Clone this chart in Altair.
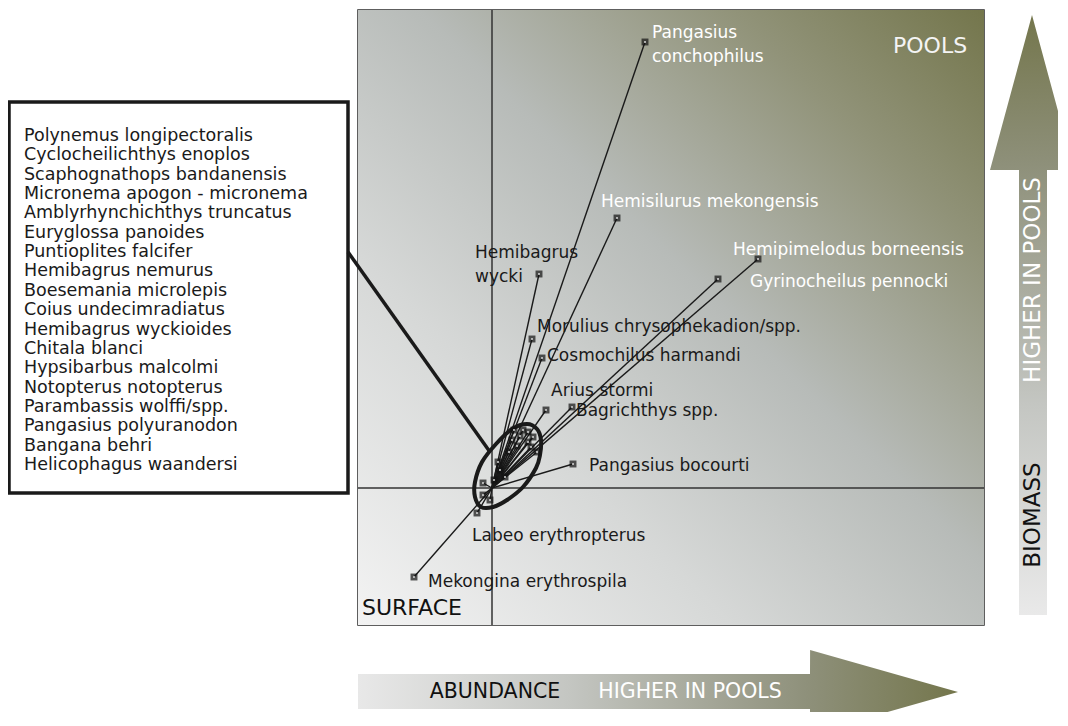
import altair as alt
import pandas as pd

# ---------------- data ----------------
# plot window (ordination units)
XD = [-1.34, 4.92]
YD = [-1.37, 4.78]

# labelled species scores (axis 1 = abundance, axis 2 = biomass)
lab_names = ["Pangasius conchophilus", "Hemisilurus mekongensis", "Hemibagrus wycki",
             "Hemipimelodus borneensis", "Gyrinocheilus pennocki",
             "Morulius chrysophekadion/spp.", "Cosmochilus harmandi", "Arius stormi",
             "Bagrichthys spp.", "Pangasius bocourti", "Labeo erythropterus",
             "Mekongina erythrospila"]
lab_x = [1.53, 1.25, 0.47, 2.66, 2.26, 0.40, 0.50, 0.54, 0.80, 0.81, -0.15, -0.78]
lab_y = [4.46, 2.70, 2.14, 2.29, 2.09, 1.49, 1.30, 0.78, 0.81, 0.24, -0.25, -0.89]
lab_text = ["Pangasius\nconchophilus", "Hemisilurus mekongensis", "Hemibagrus\nwycki",
            "Hemipimelodus borneensis", "Gyrinocheilus pennocki",
            "Morulius chrysophekadion/spp.", "Cosmochilus harmandi", "Arius stormi",
            "Bagrichthys spp.", "Pangasius bocourti", "Labeo erythropterus",
            "Mekongina erythrospila"]

# species grouped in the central cluster (listed in the box)
clu_names = ["Polynemus longipectoralis", "Cyclocheilichthys enoplos",
             "Scaphognathops bandanensis", "Micronema apogon - micronema",
             "Amblyrhynchichthys truncatus", "Euryglossa panoides",
             "Puntioplites falcifer", "Hemibagrus nemurus", "Boesemania microlepis",
             "Coius undecimradiatus", "Hemibagrus wyckioides", "Chitala blanci",
             "Hypsibarbus malcolmi", "Notopterus notopterus", "Parambassis wolffi/spp.",
             "Pangasius polyuranodon", "Bangana behri", "Helicophagus waandersi"]
clu_x = [0.31, 0.36, 0.20, 0.36, 0.45, 0.13, -0.09, -0.09, -0.02, 0.28, 0.25, 0.41,
         0.17, 0.22, 0.08, 0.39, 0.06, 0.02]
clu_y = [0.58, 0.56, 0.48, 0.46, 0.36, 0.11, 0.05, -0.07, -0.12, 0.52, 0.42, 0.51,
         0.36, 0.58, 0.18, 0.41, 0.26, 0.08]

# hand-drawn outline round the cluster
ell_x = [0.35, 0.45, 0.49, 0.48, 0.44, 0.31, 0.15, 0.01, -0.11, -0.17, -0.17, -0.10, 0.04, 0.20]
ell_y = [0.64, 0.59, 0.48, 0.33, 0.20, 0.01, -0.12, -0.19, -0.19, -0.09, 0.06, 0.26, 0.44, 0.59]

# ---------------- styling ----------------
INK = "#1a1a1a"
FONT = "DejaVu Sans"
lab_color = ["white", "white", INK, "white", "white", INK, INK, INK, INK, INK, INK, INK]
lab_dx = [7, -16, -64, -25, 32, 5, 5, 5, 4, 16, -5, 14]
lab_dy = [-4, -11, -16, -4, 8, -7, 3, -14, 9, 7, 28, 10]

BG = alt.Gradient(gradient="linear", x1=0, y1=1, x2=1, y2=0, stops=[
    alt.GradientStop(color="#f3f3f3", offset=0),
    alt.GradientStop(color="#d6d8d7", offset=0.3),
    alt.GradientStop(color="#b7bbb8", offset=0.55),
    alt.GradientStop(color="#919379", offset=0.8),
    alt.GradientStop(color="#74764c", offset=1)])
ARROW_H = alt.Gradient(gradient="linear", x1=0, y1=0, x2=1, y2=0, stops=[
    alt.GradientStop(color="#e8e8e8", offset=0),
    alt.GradientStop(color="#c4c6c2", offset=0.35),
    alt.GradientStop(color="#8e907a", offset=0.75),
    alt.GradientStop(color="#74764c", offset=1)])
ARROW_V = alt.Gradient(gradient="linear", x1=0, y1=1, x2=0, y2=0, stops=[
    alt.GradientStop(color="#e9e9e9", offset=0),
    alt.GradientStop(color="#c4c6c2", offset=0.35),
    alt.GradientStop(color="#8e907a", offset=0.75),
    alt.GradientStop(color="#74764c", offset=1)])


def X(f):
    return alt.X(f, type="quantitative", axis=None,
                 scale=alt.Scale(domain=XD, nice=False, zero=False))


def Y(f):
    return alt.Y(f, type="quantitative", axis=None,
                 scale=alt.Scale(domain=YD, nice=False, zero=False))


layers = []

# background gradient of the plot window
bg_df = pd.DataFrame({"x": [XD[0]], "x2": [XD[1]], "y": [YD[0]], "y2": [YD[1]]})
layers.append(alt.Chart(bg_df).mark_rect(fill=BG).encode(x=X("x"), x2="x2", y=Y("y"), y2="y2"))

# zero axes
layers.append(alt.Chart(pd.DataFrame({"x": [0.0]})).mark_rule(color="#333", strokeWidth=1.5)
              .encode(x=X("x")))
layers.append(alt.Chart(pd.DataFrame({"y": [0.0]})).mark_rule(color="#333", strokeWidth=1.5)
              .encode(y=Y("y")))

# species vectors
vec = pd.DataFrame({"name": lab_names + clu_names, "x": lab_x + clu_x, "y": lab_y + clu_y})
vec["ox"] = 0.0
vec["oy"] = 0.0
layers.append(alt.Chart(vec).mark_rule(color=INK, strokeWidth=1.4)
              .encode(x=X("ox"), y=Y("oy"), x2="x", y2="y"))

# cluster outline
ell = pd.DataFrame({"x": ell_x, "y": ell_y, "i": list(range(len(ell_x)))})
layers.append(alt.Chart(ell).mark_line(color=INK, strokeWidth=4, interpolate="cardinal-closed")
              .encode(x=X("x"), y=Y("y"), order="i:Q"))

# markers: dark square with a light centre
layers.append(alt.Chart(vec).mark_square(filled=True, color="#111111", size=48)
              .encode(x=X("x"), y=Y("y")))
layers.append(alt.Chart(vec).mark_square(filled=True, color="#e6e6e6", size=4)
              .encode(x=X("x"), y=Y("y")))

# species labels
for i, t in enumerate(lab_text):
    d = pd.DataFrame({"x": [lab_x[i]], "y": [lab_y[i]], "t": [t]})
    layers.append(alt.Chart(d).mark_text(font=FONT, fontSize=17, align="left",
                                         baseline="alphabetic", lineBreak="\n",
                                         lineHeight=24, dx=lab_dx[i], dy=lab_dy[i],
                                         color=lab_color[i])
                  .encode(x=X("x"), y=Y("y"), text="t:N"))

# corner words
corner = pd.DataFrame({"x": [4.01, -1.30], "y": [4.35, -1.27], "t": ["POOLS", "SURFACE"],
                       "c": ["#f4f4f4", "#111111"]})
layers.append(alt.Chart(corner).mark_text(font=FONT, fontSize=22, align="left",
                                          baseline="alphabetic")
              .encode(x=X("x"), y=Y("y"), text="t:N", color=alt.Color("c:N", scale=None)))

# box listing the cluster species
box = pd.DataFrame({"x": [-4.83], "x2": [-1.44], "y": [-0.05], "y2": [3.86]})
layers.append(alt.Chart(box).mark_rect(fill="white", stroke=INK, strokeWidth=3.5)
              .encode(x=X("x"), x2="x2", y=Y("y"), y2="y2"))
layers.append(alt.Chart(pd.DataFrame({"x": [-4.68], "y": [3.47], "t": ["\n".join(clu_names)]}))
              .mark_text(font=FONT, fontSize=17.5, align="left", baseline="alphabetic",
                         lineBreak="\n", lineHeight=19.35, color=INK)
              .encode(x=X("x"), y=Y("y"), text="t:N"))
# pointer from box to cluster
layers.append(alt.Chart(pd.DataFrame({"x": [-1.44], "y": [2.36], "x2": [-0.02], "y2": [0.36]}))
              .mark_rule(color=INK, strokeWidth=3.5)
              .encode(x=X("x"), y=Y("y"), x2="x2", y2="y2"))

# horizontal arrow (abundance)
harrow = pd.DataFrame({"x": [-1.34, 3.18, 3.181, 4.66],
                       "y": [-1.86, -1.86, -1.62, -2.04],
                       "y2": [-2.21, -2.21, -2.46, -2.04]})
layers.append(alt.Chart(harrow).mark_area(fill=ARROW_H, orient="vertical")
              .encode(x=X("x"), y=Y("y"), y2="y2"))
htxt = pd.DataFrame({"x": [0.03, 1.98], "y": [-2.04, -2.04],
                     "t": ["ABUNDANCE", "HIGHER IN POOLS"], "c": ["#111111", "#ffffff"]})
layers.append(alt.Chart(htxt).mark_text(font=FONT, fontSize=20.5, align="center", baseline="middle")
              .encode(x=X("x"), y=Y("y"), text="t:N", color=alt.Color("c:N", scale=None)))

# vertical arrow (biomass)
varrow = pd.DataFrame({"y": [-1.27, 3.18, 3.181, 4.73],
                       "x": [5.27, 5.27, 4.98, 5.40],
                       "x2": [5.55, 5.55, 5.82, 5.40]})
layers.append(alt.Chart(varrow).mark_area(fill=ARROW_V, orient="horizontal")
              .encode(y=Y("y"), x=X("x"), x2="x2"))
vtxt = pd.DataFrame({"x": [5.41, 5.41], "y": [-0.27, 2.08],
                     "t": ["BIOMASS", "HIGHER IN POOLS"], "c": ["#111111", "#ffffff"]})
layers.append(alt.Chart(vtxt).mark_text(font=FONT, fontSize=23, align="center",
                                        baseline="middle", angle=270)
              .encode(x=X("x"), y=Y("y"), text="t:N", color=alt.Color("c:N", scale=None)))

chart = alt.layer(*layers).properties(
    width=626, height=615,
    autosize=alt.AutoSizeParams(type="none"),
    padding={"left": 350, "top": 2, "right": 74, "bottom": 87},
    background="white",
).configure_view(stroke="#2a2a2a", strokeWidth=1.5)

chart.save("out.html", embed_options={"renderer": "svg", "actions": False})
